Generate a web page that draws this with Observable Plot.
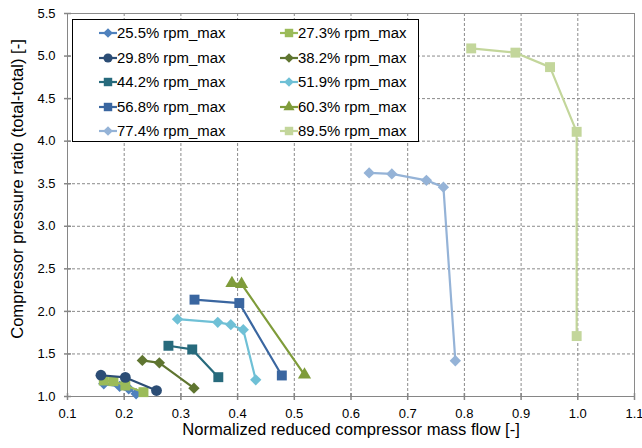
<!DOCTYPE html>
<html>
<head>
<meta charset="utf-8">
<script src="https://cdn.jsdelivr.net/npm/d3@7"></script>
<script src="https://cdn.jsdelivr.net/npm/@observablehq/plot@0.6"></script>
<style>
  body { margin: 0; background: #fff; font-family: "Liberation Sans", Arial, sans-serif; }
  #wrap { position: relative; width: 642px; height: 448px; }
  #legend { position: absolute; left: 72px; top: 19px; width: 347px; height: 123px;
            border: 1px solid #000; background: #fff; box-sizing: border-box; }
  .li { position: absolute; font-size: 14.9px; color: #000; white-space: nowrap; line-height: 16px; }
  .li svg { position: absolute; left: 0; top: 0; overflow: visible; }
  .li span { position: absolute; top: 0; }
</style>
</head>
<body>
<div id="wrap"></div>
<script>
// ---- data ----
const seriesNames = ["25.5% rpm_max", "27.3% rpm_max", "29.8% rpm_max", "38.2% rpm_max", "44.2% rpm_max",
                     "51.9% rpm_max", "56.8% rpm_max", "60.3% rpm_max", "77.4% rpm_max", "89.5% rpm_max"];
const seriesColors = ["#4F81BD", "#9BBB59", "#2C4D75", "#5F7530", "#276A7C",
                      "#6FC0D6", "#3A66A0", "#7F9C3A", "#95B3D7", "#C3D69B"];
const seriesSymbols = ["diamond2", "square", "circle", "diamond2", "square",
                       "diamond2", "square", "triangle", "diamond2", "square"];

const flow_25_5 = [0.164, 0.192, 0.208, 0.221];
const pr_25_5   = [1.149, 1.118, 1.091, 1.032];
const flow_27_3 = [0.164, 0.181, 0.202, 0.234];
const pr_27_3   = [1.188, 1.180, 1.129, 1.051];
const flow_29_8 = [0.159, 0.202, 0.257];
const pr_29_8   = [1.250, 1.224, 1.070];
const flow_38_2 = [0.232, 0.262, 0.323];
const pr_38_2   = [1.424, 1.396, 1.098];
const flow_44_2 = [0.278, 0.320, 0.366];
const pr_44_2   = [1.596, 1.553, 1.227];
const flow_51_9 = [0.294, 0.365, 0.388, 0.410, 0.432];
const pr_51_9   = [1.909, 1.871, 1.844, 1.785, 1.196];
const flow_56_8 = [0.324, 0.403, 0.478];
const pr_56_8   = [2.138, 2.098, 1.247];
const flow_60_3 = [0.390, 0.407, 0.518];
const pr_60_3   = [2.330, 2.320, 1.255];
const flow_77_4 = [0.632, 0.672, 0.733, 0.763, 0.784];
const pr_77_4   = [3.627, 3.615, 3.540, 3.460, 1.420];
const flow_89_5 = [0.812, 0.890, 0.951, 0.998, 0.998];
const pr_89_5   = [5.090, 5.040, 4.870, 4.110, 1.710];

const xTicks = [0.1, 0.2, 0.3, 0.4, 0.5, 0.6, 0.7, 0.8, 0.9, 1.0, 1.1];
const yTicks = [1.0, 1.5, 2.0, 2.5, 3.0, 3.5, 4.0, 4.5, 5.0, 5.5];
const xTitle = "Normalized reduced compressor mass flow [-]";
const yTitle = "Compressor pressure ratio (total-total) [-]";

// ---- build table ----
const flows = [flow_25_5, flow_27_3, flow_29_8, flow_38_2, flow_44_2, flow_51_9, flow_56_8, flow_60_3, flow_77_4, flow_89_5];
const prs   = [pr_25_5, pr_27_3, pr_29_8, pr_38_2, pr_44_2, pr_51_9, pr_56_8, pr_60_3, pr_77_4, pr_89_5];
const symR = {diamond2: 5.1, square: 5.6, circle: 5.4, triangle: 4.9};

const hLine = {draw(ctx) { ctx.moveTo(-3.5, 0); ctx.lineTo(3.5, 0); }};
const vLine = {draw(ctx) { ctx.moveTo(0, -3.5); ctx.lineTo(0, 3.5); }};

const marks = [
  Plot.gridX(xTicks, {stroke: "#8a8a8a", strokeOpacity: 1, strokeDasharray: "3,2"}),
  Plot.gridY(yTicks, {stroke: "#8a8a8a", strokeOpacity: 1, strokeDasharray: "3,2"}),
  Plot.frame({anchor: "top", stroke: "#8a8a8a", strokeDasharray: "1.5,1"}),
  Plot.frame({anchor: "right", stroke: "#8a8a8a", strokeDasharray: "1.5,1"}),
  Plot.ruleX([xTicks[0]], {stroke: "#868686"}),
  Plot.ruleY([yTicks[0]], {stroke: "#868686"}),
  Plot.dot(yTicks, {y: d => d, frameAnchor: "left", symbol: hLine, stroke: "#868686", r: 4}),
  Plot.dot(xTicks, {x: d => d, frameAnchor: "bottom", symbol: vLine, stroke: "#868686", r: 4}),
  Plot.axisY(yTicks, {tickSize: 0, tickPadding: 12, tickFormat: d3.format(".1f"), label: null,
                      fontSize: 13, fill: "#000"}),
  Plot.axisX(xTicks, {tickSize: 0, tickPadding: 12, tickFormat: d3.format(".1f"), label: null,
                      fontSize: 13, fill: "#000"})
];

seriesNames.forEach((name, i) => {
  const rows = flows[i].map((f, j) => ({series: name, flow: f, pr: prs[i][j]}));
  marks.push(Plot.line(rows, {x: "flow", y: "pr", stroke: seriesColors[i], strokeWidth: 2.2}));
  marks.push(Plot.dot(rows, {x: "flow", y: "pr", fill: seriesColors[i], symbol: seriesSymbols[i],
                             r: symR[seriesSymbols[i]], stroke: "none"}));
});

marks.push(Plot.text([xTitle], {text: d => d, frameAnchor: "bottom", textAnchor: "middle", dy: 38,
                                fontSize: 16.6, fill: "#000"}));
marks.push(Plot.text([yTitle], {text: d => d, frameAnchor: "left", textAnchor: "middle", rotate: -90,
                                dx: -50, dy: -16, fontSize: 16.6, fill: "#000"}));

const chart = Plot.plot({
  width: 642,
  height: 448,
  marginTop: 13,
  marginRight: 8,
  marginBottom: 52,
  marginLeft: 67,
  style: {fontFamily: "'Liberation Sans', Arial, sans-serif", background: "#fff", overflow: "visible"},
  x: {domain: [0.1, 1.1], axis: null},
  y: {domain: [1.0, 5.5], axis: null},
  marks
});

const wrap = document.getElementById("wrap");
wrap.appendChild(chart);

// ---- legend ----
const legend = document.createElement("div");
legend.id = "legend";
wrap.appendChild(legend);
const symType = {diamond2: d3.symbolDiamond2, square: d3.symbolSquare, circle: d3.symbolCircle, triangle: d3.symbolTriangle};
seriesNames.forEach((name, i) => {
  const col = i % 2, row = Math.floor(i / 2);
  const item = document.createElement("div");
  item.className = "li";
  item.style.left = (col === 0 ? 26 : 207) + "px";
  item.style.top = (5 + row * 24.6) + "px";
  const r = symR[seriesSymbols[i]] * 0.85;
  const path = d3.symbol(symType[seriesSymbols[i]], Math.PI * r * r)();
  item.innerHTML =
    `<svg width="18" height="16"><line x1="0" x2="18" y1="8" y2="8" stroke="${seriesColors[i]}" stroke-width="2.2"/>` +
    `<path d="${path}" transform="translate(9,8)" fill="${seriesColors[i]}"/></svg>` +
    `<span style="left:18px">${name}</span>`;
  legend.appendChild(item);
});
</script>
</body>
</html>
